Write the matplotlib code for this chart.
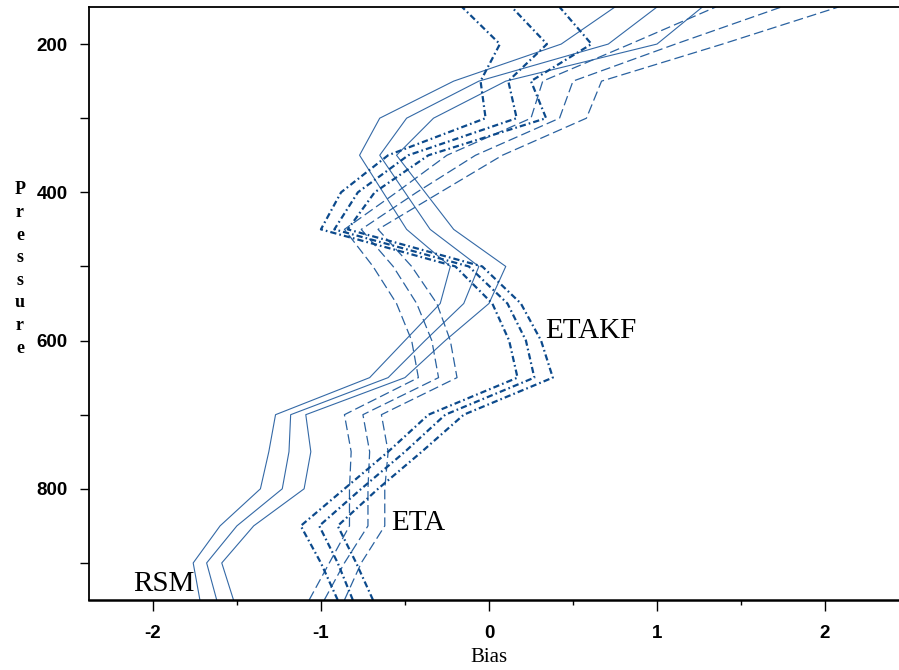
import matplotlib
matplotlib.use("Agg")
import matplotlib.pyplot as plt

plt.rcParams['axes.unicode_minus'] = False
plt.rcParams['lines.scale_dashes'] = False

# Pressure levels (hPa)
levels = [950, 900, 850, 800, 750, 700, 650, 600, 550, 500, 450, 400, 350, 300, 250, 200, 150]

# RSM (solid)
rsm_1 = [-1.72, -1.76, -1.60, -1.36, -1.31, -1.27, -0.71, -0.50, -0.29, -0.23, -0.49, -0.63, -0.77, -0.65, -0.21, 0.43, 0.75]
rsm_2 = [-1.62, -1.68, -1.50, -1.23, -1.19, -1.18, -0.60, -0.38, -0.15, -0.06, -0.35, -0.50, -0.65, -0.49, -0.06, 0.71, 1.00]
rsm_3 = [-1.52, -1.59, -1.40, -1.10, -1.06, -1.09, -0.50, -0.26, 0.00, 0.10, -0.21, -0.38, -0.55, -0.33, 0.10, 1.00, 1.27]

# ETA (dashed)
eta_1 = [-1.07, -0.95, -0.83, -0.83, -0.82, -0.86, -0.42, -0.46, -0.55, -0.69, -0.86, -0.55, -0.25, 0.25, 0.32, 0.84, 1.35]
eta_2 = [-0.98, -0.86, -0.72, -0.72, -0.71, -0.75, -0.30, -0.34, -0.43, -0.57, -0.76, -0.43, -0.08, 0.42, 0.50, 1.11, 1.74]
eta_3 = [-0.86, -0.76, -0.62, -0.62, -0.60, -0.64, -0.19, -0.23, -0.31, -0.46, -0.66, -0.29, 0.08, 0.58, 0.67, 1.39, 2.08]

# ETAKF (dash-dot)
etakf_1 = [-0.90, -1.00, -1.12, -0.86, -0.60, -0.36, 0.17, 0.12, 0.02, -0.20, -1.00, -0.88, -0.60, -0.02, -0.05, 0.065, -0.16]
etakf_2 = [-0.81, -0.90, -1.01, -0.76, -0.50, -0.26, 0.27, 0.22, 0.11, -0.12, -0.92, -0.78, -0.48, 0.165, 0.115, 0.345, 0.135]
etakf_3 = [-0.69, -0.79, -0.90, -0.66, -0.40, -0.15, 0.38, 0.31, 0.19, -0.04, -0.84, -0.68, -0.36, 0.34, 0.25, 0.61, 0.42]

x_ticks = [-2, -1, 0, 1, 2]
x_minor = [-1.5, -0.5, 0.5, 1.5]
y_ticks = [200, 400, 600, 800]
y_minor = [300, 500, 700, 900]

W, H = 899, 670
fig = plt.figure(figsize=(W / 100, H / 100), dpi=100)
ax = fig.add_axes([89 / W, (H - 600) / H, (W - 89) / W, (600 - 7) / H])

solid_c = '#3469a6'
dash_c = '#2a62a0'
dd_c = '#0c4a8c'

for s in (rsm_1, rsm_2, rsm_3):
    ax.plot(s, levels, color=solid_c, lw=0.8, ls='-')
for s in (eta_1, eta_2, eta_3):
    ax.plot(s, levels, color=dash_c, lw=0.9, dashes=(7, 3))
for s in (etakf_1, etakf_2, etakf_3):
    ax.plot(s, levels, color=dd_c, lw=1.6, dashes=(4.5, 2.2, 1.2, 2.2))

ax.set_xlim(-2.38, 2.44)
ax.set_ylim(950, 150)

ax.set_xticks(x_ticks)
ax.set_xticklabels([str(v) for v in x_ticks])
ax.set_xticks(x_minor, minor=True)
ax.set_yticks(y_ticks)
ax.set_yticklabels([str(v) for v in y_ticks])
ax.set_yticks(y_minor, minor=True)

for lab in ax.get_xticklabels() + ax.get_yticklabels():
    lab.set_fontfamily('Liberation Sans')
    lab.set_fontsize(13.5)
    lab.set_fontweight('bold')

ax.tick_params(axis='x', which='major', direction='out', length=8, width=1, pad=10, colors='black')
ax.tick_params(axis='x', which='minor', direction='out', length=3.5, width=1)
ax.tick_params(axis='y', which='both', direction='out', length=6.5, width=1, pad=9)

ax.spines['right'].set_visible(False)
for sp in ('left', 'top'):
    ax.spines[sp].set_linewidth(1.3)
ax.spines['bottom'].set_linewidth(1.8)

serif = 'Liberation Serif'
ax.text(-2.12, 938, 'RSM', family=serif, fontsize=21, va='baseline', ha='left')
ax.text(-0.58, 855, 'ETA', family=serif, fontsize=21, va='baseline', ha='left')
ax.text(0.333, 597, 'ETAKF', family=serif, fontsize=21, va='baseline', ha='left')

fig.text(20 / W, 1 - 269 / H, 'P\nr\ne\ns\ns\nu\nr\ne', family=serif, fontsize=13,
         weight='bold', ha='center', va='center', linespacing=1.43)
fig.text(489 / W, 1 - 657 / H, 'Bias', family=serif, fontsize=15, ha='center', va='center')

fig.savefig('out.png', dpi=100)
